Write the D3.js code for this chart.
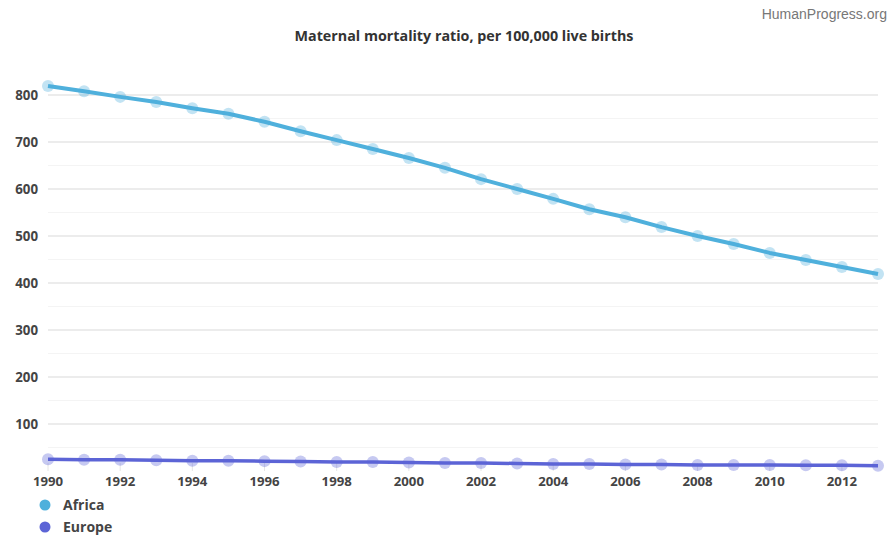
<!DOCTYPE html>
<html><head><meta charset="utf-8">
<script src="https://cdn.jsdelivr.net/npm/d3@7"></script>
<style>body{margin:0;background:#fff;} svg{display:block;}</style>
</head><body>
<svg id="c" width="890" height="537"></svg>
<script>
const years = [1990,1991,1992,1993,1994,1995,1996,1997,1998,1999,2000,2001,2002,2003,2004,2005,2006,2007,2008,2009,2010,2011,2012,2013];
const africa = [819,808,796,785,772,760,743,723,704,685,666,645,621,600,579,557,540,519,500,483,464,449,434,419];
const europe = [25,24,24,23,22,22,21,20,19,19,18,17,17,16,15,15,14,14,13,13,13,12,12,11];
const yTicks = [100,200,300,400,500,600,700,800];
const yMinor = [50,150,250,350,450,550,650,750];
const xTicks = [1990,1992,1994,1996,1998,2000,2002,2004,2006,2008,2010,2012];
const seriesNames = ["Africa","Europe"];
const colors = ["#4fb0dc","#5c64d6"];

const svg = d3.select("#c");
const x = d3.scaleLinear().domain([1990,2013]).range([48,878]);
const y = d3.scaleLinear().domain([0,800]).range([471,95]);

svg.append("text").attr("x",887).attr("y",19).attr("text-anchor","end")
  .attr("font-family","Liberation Sans, Arial, sans-serif").attr("font-size",14).attr("fill","#777")
  .text("HumanProgress.org");
svg.append("text").attr("x",464).attr("y",41).attr("text-anchor","middle")
  .attr("font-family","Open Sans, sans-serif").attr("font-weight","bold").attr("font-size",14.3).attr("fill","#333")
  .text("Maternal mortality ratio, per 100,000 live births");

// gridlines
svg.append("g").selectAll("line").data(yMinor).join("line")
  .attr("x1",48).attr("x2",878).attr("y1",d=>y(d)).attr("y2",d=>y(d))
  .attr("stroke","#f4f4f4").attr("stroke-width",1);
svg.append("g").selectAll("line").data(yTicks).join("line")
  .attr("x1",48).attr("x2",878).attr("y1",d=>y(d)).attr("y2",d=>y(d))
  .attr("stroke","#e6e6e6").attr("stroke-width",1.5);

// y labels
svg.append("g").selectAll("text").data(yTicks).join("text")
  .attr("x",38).attr("y",d=>y(d)+5).attr("text-anchor","end")
  .attr("font-family","Open Sans, sans-serif").attr("font-weight","bold").attr("font-size",13.3).attr("fill","#444")
  .text(d=>d);

// x ticks and labels
svg.append("g").selectAll("line").data(xTicks).join("line")
  .attr("x1",d=>x(d)).attr("x2",d=>x(d)).attr("y1",463).attr("y2",471)
  .attr("stroke","#e6e6e6");
svg.append("g").selectAll("text").data(xTicks).join("text")
  .attr("x",d=>x(d)).attr("y",486).attr("text-anchor","middle")
  .attr("font-family","Open Sans, sans-serif").attr("font-weight","bold").attr("font-size",13.2).attr("fill","#444")
  .text(d=>d);

const line = d3.line().x((d,i)=>x(years[i])).y(d=>y(d));
[africa,europe].forEach((s,k)=>{
  const g = svg.append("g");
  g.append("path").datum(s).attr("d",line).attr("fill","none")
    .attr("stroke",colors[k]).attr("stroke-width",k===0?4:3.5).attr("stroke-linejoin","round");
  g.selectAll("circle").data(s).join("circle")
    .attr("cx",(d,i)=>x(years[i])).attr("cy",d=>y(d)).attr("r",6)
    .attr("fill",colors[k]).attr("fill-opacity",0.35);
});

// legend
const lg = svg.append("g");
seriesNames.forEach((n,k)=>{
  lg.append("circle").attr("cx",45).attr("cy",505+k*22).attr("r",5.5).attr("fill",colors[k]);
  lg.append("text").attr("x",63).attr("y",510+k*22)
    .attr("font-family","Open Sans, sans-serif").attr("font-weight","bold").attr("font-size",14).attr("fill","#444")
    .text(n);
});
</script>
</body></html>
